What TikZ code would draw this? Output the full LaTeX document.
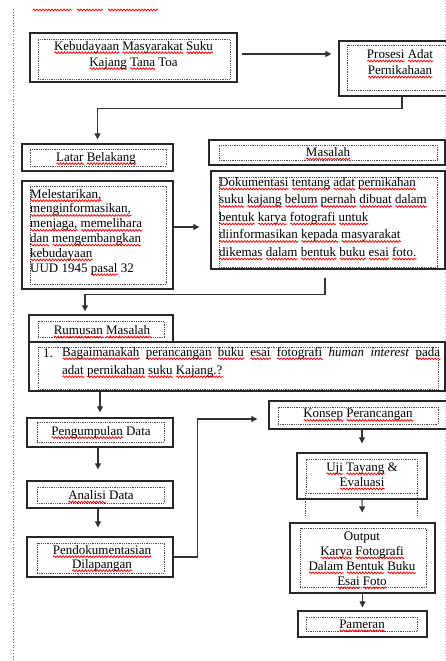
\documentclass[tikz,border=0pt]{standalone}
\usepackage{fontspec}
\setmainfont{Liberation Serif}
\usetikzlibrary{arrows.meta,decorations.pathmorphing}
\tikzset{
  obox/.style={draw=black!85, line width=1.3pt, inner sep=0pt},
  ibox/.style={draw=black!70, densely dotted, line width=0.8pt, inner sep=0pt},
  txt/.style={inner sep=0pt, text=black, font=\fontsize{13}{16}\selectfont},
  arr/.style={draw=black!80, line width=1.1pt, -{Triangle[length=6pt,width=6pt]}},
  border/.style={draw=black!60, dotted, line width=0.8pt},
  squig/.style={draw=red, line width=0.75pt, decorate, decoration={snake,amplitude=0.9pt,segment length=3pt}}
}
\newsavebox\sqwbox
\newlength\sqwlen
\newcommand\sqw[1]{\sbox\sqwbox{#1}\setlength\sqwlen{\wd\sqwbox}\leavevmode\rlap{\smash{\tikz[baseline=0pt]\draw[squig] (0pt,-2.6pt) -- (\sqwlen,-2.6pt);}}\usebox\sqwbox}
\begin{document}
\begin{tikzpicture}[x=1pt,y=-1pt]
\useasboundingbox (0,0) rectangle (446,661);
\clip (0,0) rectangle (446,661);
\fill[white] (0,0) rectangle (446,661);
% page borders
\draw[border] (13,9) -- (13,661);
\draw[border, draw=black!25] (445,0) -- (445,661);
% cut-off text marks at top
\draw[squig] (33,10) -- (72,10);
\draw[squig] (77,10) -- (103,10);
\draw[squig] (108,10) -- (158,10);

% --- boxes ---
\node[obox, minimum width=207pt, minimum height=49pt] (keb) at (133.5,57.5) {};
\node[ibox, minimum width=192pt, minimum height=40pt] (kebi) at (134,59) {};
\node[txt, align=center, font=\fontsize{13}{16}\selectfont] (kebt) at (133.5,55)
  {\sqw{Kebudayaan} \sqw{Masyarakat} \sqw{Suku}\\ \sqw{Kajang} \sqw{Tana} Toa};

\node[obox, minimum width=122pt, minimum height=55pt] (pro) at (400,68.5) {};
\node[ibox, minimum width=106pt, minimum height=45pt] (proi) at (400,67.5) {};
\node[txt, align=center, font=\fontsize{13}{16}\selectfont] (prot) at (400,62)
  {\sqw{Prosesi} \sqw{Adat}\\ \sqw{Pernikahaan}};

\node[obox, minimum width=151pt, minimum height=27pt] (latar) at (97.5,157.5) {};
\node[ibox, minimum width=136pt, minimum height=17pt] (latari) at (98,157.5) {};
\node[txt] (latart) at (96,158) {\sqw{Latar} \sqw{Belakang}};

\node[obox, minimum width=236pt, minimum height=25pt] (mas) at (327,152.5) {};
\node[ibox, minimum width=218pt, minimum height=15pt] (masi) at (328,152.5) {};
\node[txt] (mast) at (328,152) {\sqw{Masalah}};

\node[obox, minimum width=151pt, minimum height=108pt] (mel) at (97.5,235) {};
\node[ibox, minimum width=136pt, minimum height=98pt] (meli) at (98,235) {};
\node[txt, align=left, anchor=west, font=\fontsize{13}{14.8}\selectfont] (melt) at (30,232)
  {\sqw{Melestarikan,}\\ \sqw{menginformasikan,}\\ \sqw{menjaga,} \sqw{memelihara}\\
   \sqw{dan} \sqw{mengembangkan}\\ \sqw{kebudayaan}\\ UUD 1945 \sqw{pasal} 32};

\node[obox, minimum width=234pt, minimum height=98pt] (dok) at (328,220) {};
\node[ibox, minimum width=218pt, minimum height=90pt] (doki) at (328,222) {};
\node[txt, align=left, anchor=west, font=\fontsize{13}{17.5}\selectfont] (dokt) at (219,217)
  {\sqw{Dokumentasi} \sqw{tentang} \sqw{adat} \sqw{pernikahan}\\
   \sqw{suku} \sqw{kajang} \sqw{belum} \sqw{pernah} \sqw{dibuat} \sqw{dalam}\\
   \sqw{bentuk} \sqw{karya} \sqw{fotografi} \sqw{untuk}\\
   \sqw{diinformasikan} \sqw{kepada} \sqw{masyarakat}\\
   \sqw{dikemas} \sqw{dalam} \sqw{bentuk} \sqw{buku} \sqw{esai} \sqw{foto.}};

\node[obox, minimum width=144pt, minimum height=27pt] (rum) at (101,328.5) {};
\node[ibox, minimum width=126pt, minimum height=16pt] (rumi) at (101,329) {};
\node[txt] (rumt) at (102,330) {\sqw{Rumusan} \sqw{Masalah}};

\node[obox, minimum width=416pt, minimum height=49pt] (q) at (237,366.5) {};
\node[ibox, minimum width=400pt, minimum height=42pt] (qi) at (238,368) {};
\node[txt, anchor=west] (qn) at (43,353) {1.};
\node[txt, anchor=west, text width=378pt, align=justify, font=\fontsize{13}{18}\selectfont] (qt) at (62,362)
  {\sqw{Bagaimanakah} \sqw{perancangan} \sqw{buku} \sqw{esai} \sqw{fotografi} \textit{human interest} \sqw{pada}\linebreak
   \sqw{adat} \sqw{pernikahan} \sqw{suku} \sqw{Kajang.?}};

\node[obox, minimum width=146pt, minimum height=29pt] (peng) at (100,432.5) {};
\node[ibox, minimum width=127pt, minimum height=20pt] (pengi) at (100.5,432) {};
\node[txt] (pengt) at (101,432) {\sqw{Pengumpulan} Data};

\node[obox, minimum width=146pt, minimum height=27pt] (ana) at (100,494.5) {};
\node[ibox, minimum width=127pt, minimum height=16pt] (anai) at (100.5,495) {};
\node[txt] (anat) at (101,495) {\sqw{Analisi} Data};

\node[obox, minimum width=146pt, minimum height=40pt] (pend) at (100,557) {};
\node[ibox, minimum width=127pt, minimum height=30pt] (pendi) at (100.5,558) {};
\node[txt, align=center, font=\fontsize{13}{14}\selectfont] (pendt) at (102,558)
  {\sqw{Pendokumentasian}\\ \sqw{Dilapangan}};

\node[obox, minimum width=179pt, minimum height=28pt] (kon) at (358.5,415) {};
\node[ibox, minimum width=160pt, minimum height=17pt] (koni) at (358,415.5) {};
\node[txt] (kont) at (358,415) {\sqw{Konsep} \sqw{Perancangan}};

\node[obox, minimum width=130pt, minimum height=46pt] (uji) at (362,476) {};
\node[ibox, minimum width=111pt, minimum height=34pt] (ujii) at (361.5,476) {};
\draw[ibox] (ujii.south west) -- ++(0,23);
\draw[ibox] (ujii.south east) -- ++(0,23);
\node[txt, align=center, font=\fontsize{13}{15}\selectfont] (ujit) at (362,474.5)
  {\sqw{Uji} \sqw{Tayang} \&\\ \sqw{Evaluasi}};

\node[obox, minimum width=145pt, minimum height=70pt] (out) at (362.5,558) {};
\node[ibox, minimum width=126pt, minimum height=59pt] (outi) at (363,557.5) {};
\node[txt, align=center, font=\fontsize{13}{15}\selectfont] (outt) at (362,558.5)
  {Output\\ \sqw{Karya} \sqw{Fotografi}\\ \sqw{Dalam} \sqw{Bentuk} \sqw{Buku}\\ \sqw{Esai} \sqw{Foto}};

\node[obox, minimum width=129pt, minimum height=26pt] (pam) at (362.5,624) {};
\node[ibox, minimum width=111pt, minimum height=14pt] (pami) at (361.5,624) {};
\node[txt] (pamt) at (362,624) {\sqw{Pameran}};

% --- connectors ---
\draw[arr, shorten <=4pt, shorten >=7pt] ([yshift=3.5pt]keb.east) -- ([yshift=3.5pt]keb.east -| pro.west);
\draw[arr, shorten >=4pt] ([xshift=2pt]pro.south) -- ++(0,12) -| (latar.north);
\draw[arr, shorten >=11pt] ([yshift=8pt]mel.east) -- ([yshift=8pt]mel.east -| dok.west);
\draw[arr, shorten <=8pt, shorten >=3pt] ([xshift=-3pt]dok.south) -- ++(0,25) -| ([xshift=-16pt]rum.north);
\draw[arr, shorten >=5pt] (peng.north |- q.south) -- (peng.north);
\draw[arr, shorten >=11pt] ([xshift=-2pt]peng.south) -- ([xshift=-2pt]ana.north);
\draw[arr, shorten >=9pt] ([xshift=-2pt]ana.south) -- ([xshift=-2pt]pend.north);
\draw[arr, shorten >=11pt] (pend.east) -- ++(24,0) |- ([yshift=-4pt]kon.west);
\draw[arr, shorten >=9pt] (uji.north |- kon.south) -- (uji.north);
\draw[arr, shorten >=10pt] (uji.south) -- (out.north);
\draw[arr, shorten >=3pt] (out.south) -- (pam.north);
\end{tikzpicture}
\end{document}
